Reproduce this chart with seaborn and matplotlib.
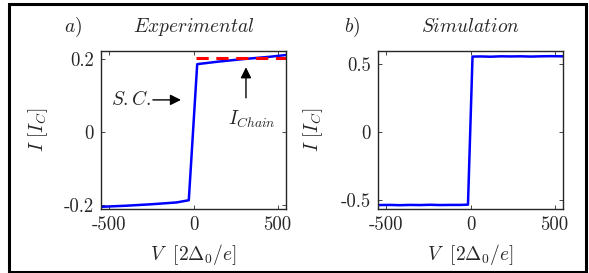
import numpy as np
import pandas as pd
import seaborn as sns
import matplotlib
matplotlib.use('Agg')
from matplotlib import pyplot as plt
from matplotlib.patches import Rectangle

# a) experimental I-V curve
exp_v = [-550, -400, -250, -100, -28, 22, 150, 300, 450, 550]
exp_i = [-0.205, -0.202, -0.198, -0.193, -0.187, 0.186, 0.193, 0.200, 0.206, 0.211]
chain_v = [15, 550]
chain_i = [0.203, 0.203]

# b) simulated I-V curve
sim_v = [-550, -480, -420, -360, -300, -240, -180, -120, -60, -15, 12, 60, 120, 180, 240, 300, 360, 420, 480, 550]
sim_i = [-0.537, -0.536, -0.538, -0.536, -0.537, -0.535, -0.537, -0.536, -0.536, -0.534,
         0.554, 0.555, 0.553, 0.556, 0.555, 0.556, 0.554, 0.556, 0.557, 0.556]

x_ticks = [-500, 0, 500]
a_yticks = [-0.2, 0, 0.2]
a_ylabels = ['-0.2', '0', '0.2']
b_yticks = [-0.5, 0, 0.5]
b_ylabels = ['-0.5', '0', '0.5']

sns.set_theme(style='ticks')
plt.rcParams['font.family'] = ['cmr10', 'DejaVu Serif']
plt.rcParams['mathtext.fontset'] = 'cm'
plt.rcParams['axes.unicode_minus'] = False
plt.rcParams['axes.formatter.use_mathtext'] = True

fig = plt.figure(figsize=(5.89, 2.73), dpi=100)
fig.patches.append(Rectangle((9 / 589, 1.5 / 273), 577 / 589, 268 / 273, transform=fig.transFigure,
                             fill=False, edgecolor='black', linewidth=2.2))

ax_a = fig.add_axes([101 / 589, 64 / 273, 185 / 589, 158 / 273])
ax_b = fig.add_axes([378 / 589, 64 / 273, 185 / 589, 158 / 273])

df_exp = pd.DataFrame({'V': exp_v, 'I': exp_i})
df_chain = pd.DataFrame({'V': chain_v, 'I': chain_i})
df_sim = pd.DataFrame({'V': sim_v, 'I': sim_i})

sns.lineplot(data=df_exp, x='V', y='I', ax=ax_a, color='#0000ff', linewidth=1.8, sort=False)
sns.lineplot(data=df_chain, x='V', y='I', ax=ax_a, color='#ff0000', linewidth=2.2,
             linestyle=(0, (4, 2.5)), sort=False)
sns.lineplot(data=df_sim, x='V', y='I', ax=ax_b, color='#0000ff', linewidth=1.8, sort=False)

fs = 14
for ax, yt, yl, lim, ylx in [(ax_a, a_yticks, a_ylabels, (-0.211, 0.222), -0.34),
                              (ax_b, b_yticks, b_ylabels, (-0.566, 0.595), -0.35)]:
    ax.set_xlim(-550, 550)
    ax.set_ylim(*lim)
    ax.set_xticks(x_ticks)
    ax.set_xticklabels([str(t) for t in x_ticks])
    ax.set_yticks(yt)
    ax.set_yticklabels(yl)
    ax.tick_params(direction='in', top=True, right=True, length=3, width=0.6,
                   labelsize=fs - 0.5, pad=5)
    for s in ax.spines.values():
        s.set_linewidth(1.0)
    ax.set_xlabel(r'$V\ \ [2\Delta_0/e]$', fontsize=fs)
    ax.set_ylabel(r'$I\ [I_C]$', fontsize=fs)
    ax.xaxis.set_label_coords(0.5, -0.285)
    ax.xaxis.label.set_va('center')
    ax.yaxis.set_label_coords(ylx, 0.5)
    ax.yaxis.label.set_va('center')

ax_a.text(-0.15, 1.15, r'$a)$', transform=ax_a.transAxes, fontsize=fs, ha='center', va='center')
ax_a.text(0.5, 1.15, r'$Experimental$', transform=ax_a.transAxes, fontsize=fs, ha='center', va='center')
ax_b.text(-0.14, 1.15, r'$b)$', transform=ax_b.transAxes, fontsize=fs, ha='center', va='center')
ax_b.text(0.5, 1.15, r'$Simulation$', transform=ax_b.transAxes, fontsize=fs, ha='center', va='center')

ax_a.text(-370, 0.088, r'$S.C.$', fontsize=fs, ha='center', va='center')
ax_a.annotate('', xy=(-58, 0.088), xytext=(-258, 0.088),
              arrowprops=dict(arrowstyle='-|>', color='black', lw=1.0, mutation_scale=16))
ax_a.text(345, 0.036, r'$I_{Chain}$', fontsize=fs, ha='center', va='center')
ax_a.annotate('', xy=(312, 0.185), xytext=(312, 0.086),
              arrowprops=dict(arrowstyle='-|>', color='black', lw=1.0, mutation_scale=16))

fig.savefig('out.png', dpi=100)
